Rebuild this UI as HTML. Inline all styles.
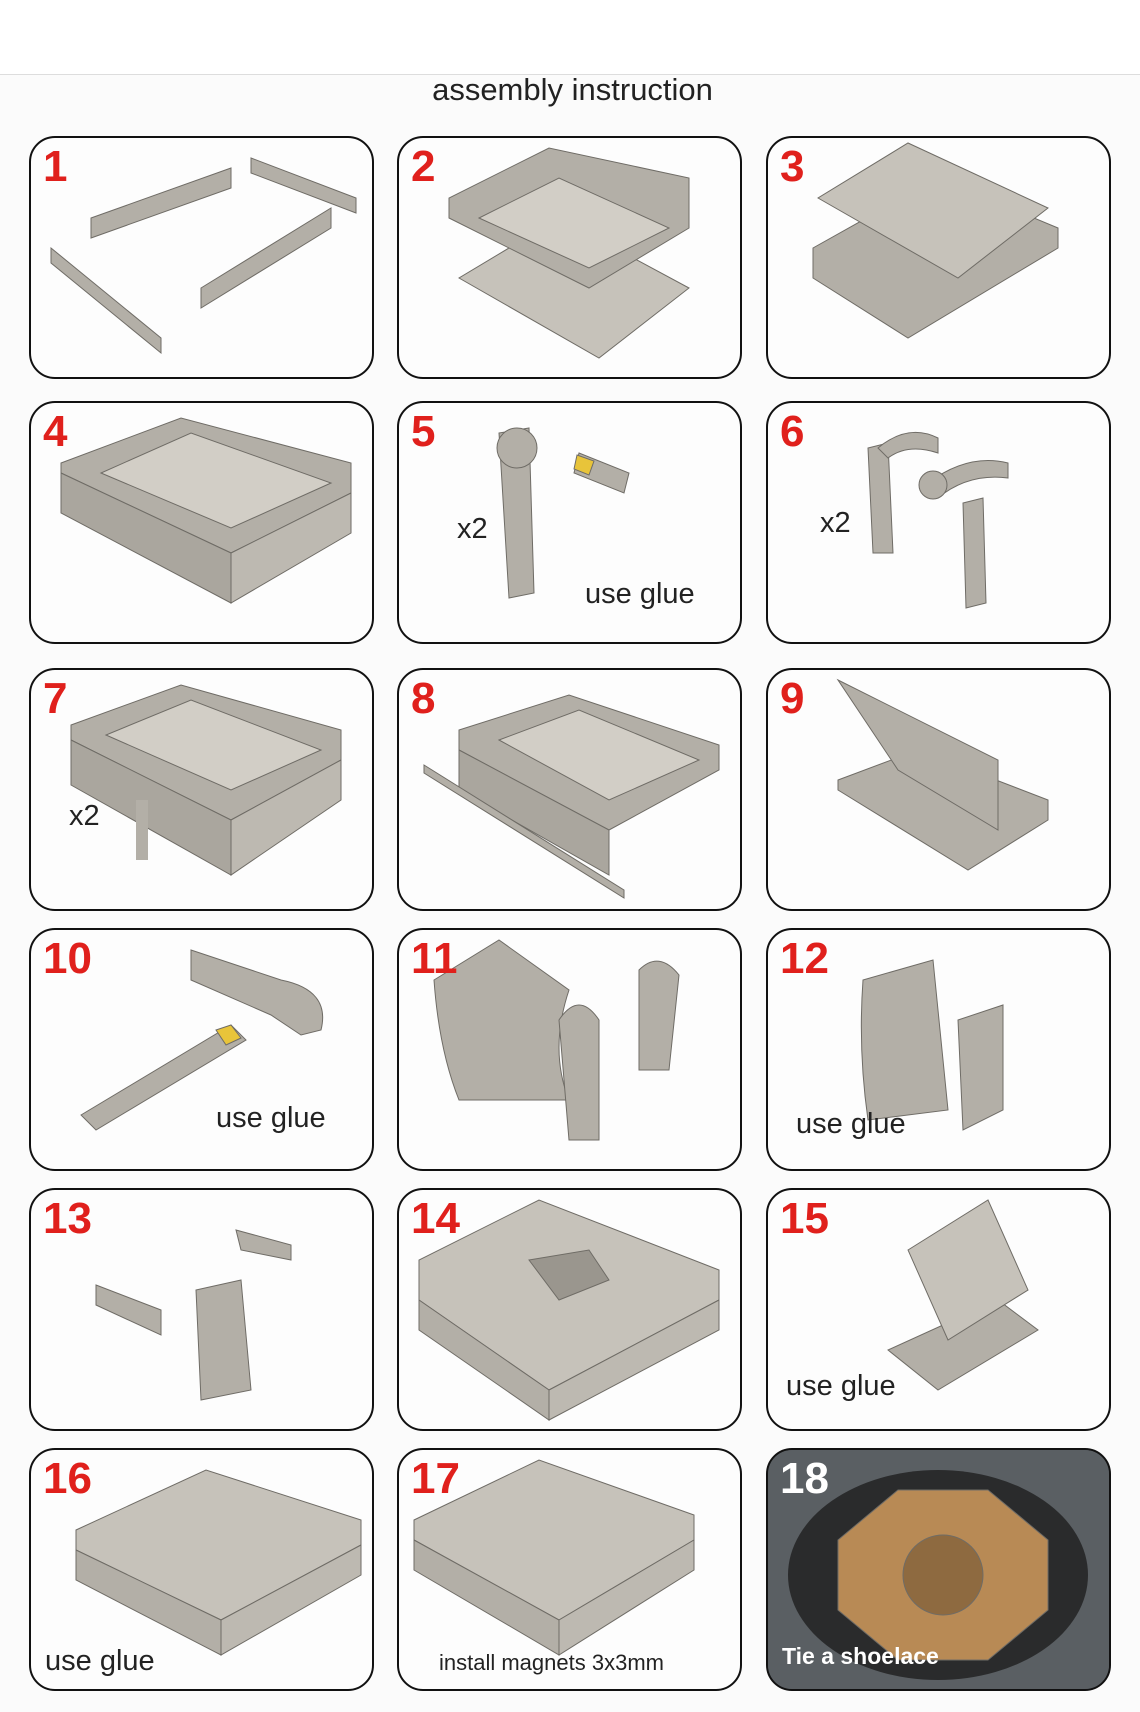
<!DOCTYPE html>
<html><head><meta charset="utf-8"><style>
html,body{margin:0;padding:0}
body{width:1140px;height:1712px;background:#fbfbfb;position:relative;overflow:hidden;font-family:"Liberation Sans",Arial,sans-serif}
.top{position:absolute;left:0;top:0;width:1140px;height:74px;background:#fff;border-bottom:1px solid #ddd}
.title{position:absolute;left:0;width:1145px;top:72px;text-align:center;font-size:31px;color:#222}
.p{position:absolute;width:341px;height:239px;border:2px solid #111;border-radius:26px;background:#fdfdfd;overflow:hidden}
.n{position:absolute;left:12px;top:4px;font-size:44px;font-weight:bold;color:#e0201c}
.t{position:absolute;font-size:29px;color:#222}
svg{position:absolute;left:0;top:0}
svg polygon,svg path,svg circle{stroke:#6f6c66;stroke-width:1}
</style></head><body>
<div class="top"></div>
<div class="title">assembly instruction</div>

<div class="p" style="left:29px;top:136px"><svg width="341" height="239">
<polygon points="20,110 130,200 130,215 20,125" fill="#b3afa7"/>
<polygon points="60,80 200,30 200,50 60,100" fill="#b3afa7"/>
<polygon points="170,150 300,70 300,90 170,170" fill="#b3afa7"/>
<polygon points="220,20 325,60 325,75 220,35" fill="#b3afa7"/></svg><div class="n">1</div></div>
<div class="p" style="left:397px;top:136px"><svg width="341" height="239">
<polygon points="60,140 200,220 290,150 160,80" fill="#c6c2ba"/>
<polygon points="50,80 190,150 290,90 290,40 150,10 50,60" fill="#b3afa7"/>
<polygon points="80,80 190,130 270,90 160,40" fill="#d2cec6"/></svg><div class="n">2</div></div>
<div class="p" style="left:766px;top:136px"><svg width="341" height="239">
<polygon points="45,140 140,200 290,110 290,90 170,40 45,110" fill="#b3afa7"/>
<polygon points="50,60 190,140 280,70 140,5" fill="#c6c2ba"/></svg><div class="n">3</div></div>

<div class="p" style="left:29px;top:401px"><svg width="341" height="239">
<polygon points="30,70 200,150 320,90 320,60 150,15 30,60" fill="#b3afa7"/>
<polygon points="70,70 200,125 300,80 160,30" fill="#d2cec6"/>
<polygon points="30,70 200,150 200,200 30,110" fill="#aaa69e"/>
<polygon points="200,150 320,90 320,130 200,200" fill="#bdb9b1"/></svg><div class="n">4</div></div>
<div class="p" style="left:397px;top:401px"><svg width="341" height="239">
<polygon points="100,30 130,25 135,190 110,195" fill="#b3afa7"/>
<circle cx="118" cy="45" r="20" fill="#b3afa7"/>
<polygon points="180,50 230,70 225,90 175,70" fill="#b3afa7"/>
<polygon points="178,52 195,58 190,72 175,66" fill="#e8c43a"/></svg><div class="n">5</div><div class="t" style="left:58px;top:110px">x2</div><div class="t" style="left:186px;top:175px">use glue</div></div>
<div class="p" style="left:766px;top:401px"><svg width="341" height="239">
<polygon points="100,45 120,40 125,150 105,150" fill="#b3afa7"/>
<path d="M110 45 Q140 20 170 35 L170 50 Q140 40 120 55Z" fill="#b3afa7"/>
<path d="M160 80 Q200 50 240 60 L240 75 Q200 70 170 95Z" fill="#b3afa7"/>
<circle cx="165" cy="82" r="14" fill="#b3afa7"/>
<polygon points="195,100 215,95 218,200 198,205" fill="#b3afa7"/></svg><div class="n">6</div><div class="t" style="left:52px;top:104px">x2</div></div>

<div class="p" style="left:29px;top:668px"><svg width="341" height="239">
<polygon points="40,70 200,150 310,90 310,60 150,15 40,55" fill="#b3afa7"/>
<polygon points="75,65 200,120 290,80 160,30" fill="#d2cec6"/>
<polygon points="40,70 200,150 200,205 40,115" fill="#aaa69e"/>
<polygon points="200,150 310,90 310,130 200,205" fill="#bdb9b1"/>
<rect x="105" y="130" width="12" height="60" fill="#b3afa7"/></svg><div class="n">7</div><div class="t" style="left:38px;top:130px">x2</div></div>
<div class="p" style="left:397px;top:668px"><svg width="341" height="239">
<polygon points="60,80 210,160 320,100 320,75 170,25 60,60" fill="#b3afa7"/>
<polygon points="100,70 210,130 300,90 180,40" fill="#d2cec6"/>
<polygon points="60,80 210,160 210,205 60,120" fill="#aaa69e"/>
<polygon points="25,95 225,220 225,228 25,103" fill="#b3afa7"/></svg><div class="n">8</div></div>
<div class="p" style="left:766px;top:668px"><svg width="341" height="239">
<polygon points="70,120 200,200 280,150 280,130 150,80 70,110" fill="#b3afa7"/>
<polygon points="70,10 230,90 230,160 130,100" fill="#b3afa7"/></svg><div class="n">9</div></div>

<div class="p" style="left:29px;top:928px"><svg width="341" height="239">
<path d="M160 20 L250 50 Q300 60 290 100 L270 105 L240 85 L160 50Z" fill="#b3afa7"/>
<polygon points="50,185 200,95 215,110 65,200" fill="#b3afa7"/>
<polygon points="185,100 200,95 210,108 195,115" fill="#e8c43a"/></svg><div class="n">10</div><div class="t" style="left:185px;top:172px">use glue</div></div>
<div class="p" style="left:397px;top:928px"><svg width="341" height="239">
<path d="M35 50 L100 10 L170 60 Q150 120 170 170 L60 170 Q40 120 35 50Z" fill="#b3afa7"/>
<path d="M160 90 Q180 60 200 90 L200 210 L170 210Z" fill="#b3afa7"/>
<path d="M240 40 Q260 20 280 45 L270 140 L240 140Z" fill="#b3afa7"/></svg><div class="n">11</div></div>
<div class="p" style="left:766px;top:928px"><svg width="341" height="239">
<path d="M95 50 L165 30 L180 180 L100 190 Q90 120 95 50Z" fill="#b3afa7"/>
<polygon points="190,90 235,75 235,180 195,200" fill="#b3afa7"/></svg><div class="n">12</div><div class="t" style="left:28px;top:178px">use glue</div></div>

<div class="p" style="left:29px;top:1188px"><svg width="341" height="239">
<path d="M65 95 L130 120 L130 145 L65 115Z" fill="#b3afa7"/>
<polygon points="165,100 210,90 220,200 170,210" fill="#b3afa7"/>
<path d="M205 40 L260 55 L260 70 L210 60Z" fill="#b3afa7"/></svg><div class="n">13</div></div>
<div class="p" style="left:397px;top:1188px"><svg width="341" height="239">
<polygon points="20,110 150,200 320,110 320,80 140,10 20,70" fill="#c6c2ba"/>
<polygon points="20,110 150,200 150,230 20,140" fill="#b3afa7"/>
<polygon points="150,200 320,110 320,140 150,230" fill="#bdb9b1"/>
<polygon points="130,70 190,60 210,90 160,110" fill="#9a968e"/></svg><div class="n">14</div></div>
<div class="p" style="left:766px;top:1188px"><svg width="341" height="239">
<polygon points="120,160 170,200 270,140 230,110" fill="#b3afa7"/>
<polygon points="140,60 220,10 260,100 180,150" fill="#c6c2ba"/></svg><div class="n">15</div><div class="t" style="left:18px;top:180px">use glue</div></div>

<div class="p" style="left:29px;top:1448px"><svg width="341" height="239">
<polygon points="45,100 190,170 330,95 330,70 175,20 45,80" fill="#c6c2ba"/>
<polygon points="45,100 190,170 190,205 45,130" fill="#b3afa7"/>
<polygon points="190,170 330,95 330,125 190,205" fill="#bdb9b1"/></svg><div class="n">16</div><div class="t" style="left:14px;top:195px">use glue</div></div>
<div class="p" style="left:397px;top:1448px"><svg width="341" height="239">
<polygon points="15,90 160,170 295,90 295,65 140,10 15,70" fill="#c6c2ba"/>
<polygon points="15,90 160,170 160,205 15,120" fill="#b3afa7"/>
<polygon points="160,170 295,90 295,120 160,205" fill="#bdb9b1"/></svg><div class="n">17</div><div class="t" style="left:40px;top:200px;font-size:22px">install magnets 3x3mm</div></div>
<div class="p" style="left:766px;top:1448px;background:#4a4e52"><svg width="341" height="239">
<rect width="341" height="239" fill="#5a5f63" style="stroke:none"/>
<ellipse cx="170" cy="125" rx="150" ry="105" fill="#2a2b2c"/>
<polygon points="70,90 130,40 220,40 280,90 280,160 220,210 130,210 70,160" fill="#b88a55"/>
<circle cx="175" cy="125" r="40" fill="#8e6a40"/></svg><div class="n" style="color:#fff">18</div><div class="t" style="left:14px;top:193px;color:#fff;font-weight:bold;font-size:23px">Tie a shoelace</div></div>
</body></html>
